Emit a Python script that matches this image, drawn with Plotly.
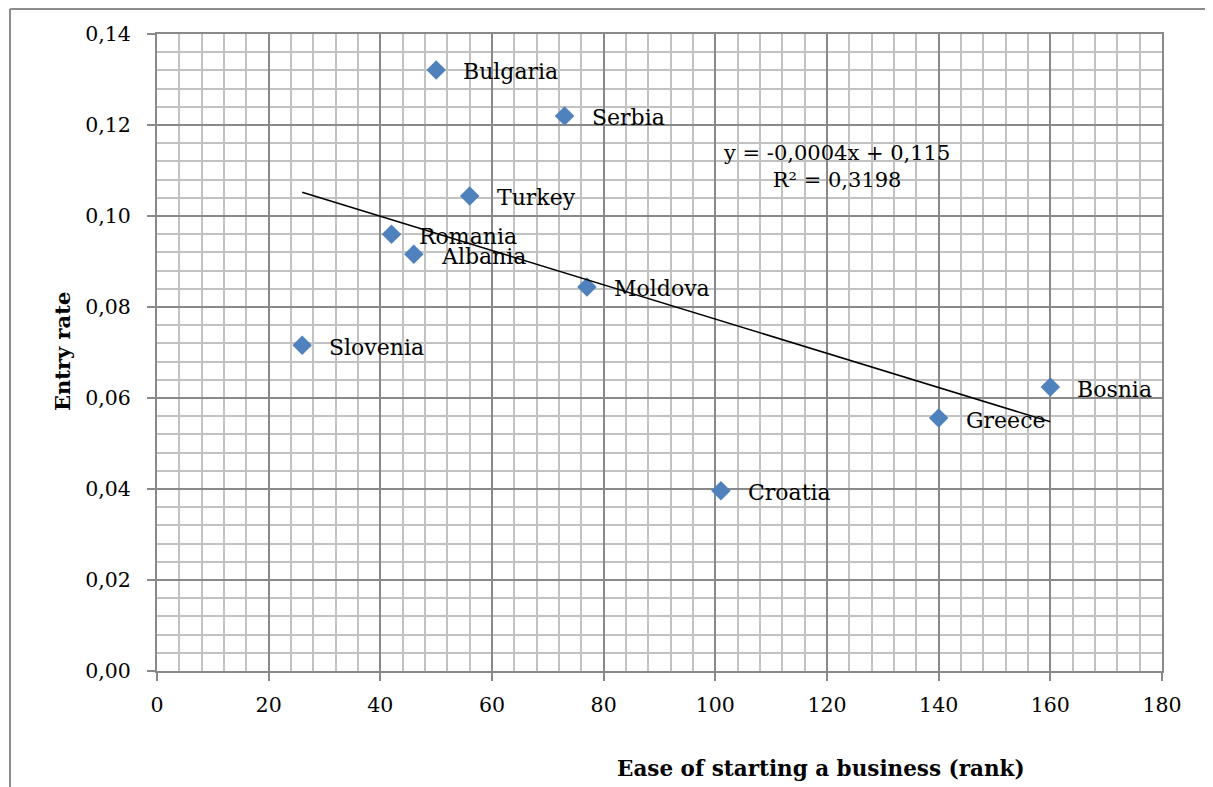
import numpy as np
import plotly.graph_objects as go

countries = ["Bulgaria", "Serbia", "Turkey", "Romania", "Albania", "Moldova",
             "Slovenia", "Bosnia", "Greece", "Croatia"]
ease_rank = [50, 73, 56, 42, 46, 77, 26, 160, 140, 101]
entry_rate = [0.1321, 0.1220, 0.1044, 0.0960, 0.0916, 0.0844,
              0.0716, 0.0624, 0.0556, 0.0396]
x_ticks = [0, 20, 40, 60, 80, 100, 120, 140, 160, 180]
y_ticks = [0.00, 0.02, 0.04, 0.06, 0.08, 0.10, 0.12, 0.14]
eq_text = "y = -0,0004x + 0,115<br>R² = 0,3198"

# page body has an 8px margin: work in target pixels, shifted by OFF
OFF = 8
W, H = 1213 - OFF, 787 - OFF
L, R, T, B = 157 - OFF, 51, 34 - OFF, 116
pw, ph = W - L - R, H - T - B

def px_x(p):
    return (p - OFF - L) / pw

def px_y(p):
    return (H - B - (p - OFF)) / ph

FONT = "DejaVu Serif"
major = "#898989"
minor = "#c2c2c2"

slope, intercept = np.polyfit(ease_rank, entry_rate, 1)
xs = np.array([min(ease_rank), max(ease_rank)])
ys = slope * xs + intercept

fig = go.Figure()
fig.add_trace(go.Scatter(
    x=ease_rank, y=entry_rate, mode="markers",
    marker=dict(symbol="diamond", size=15, color="#4F81BD",
                line=dict(width=0)),
    showlegend=False, hoverinfo="skip"))
fig.add_trace(go.Scatter(
    x=xs, y=ys, mode="lines", line=dict(color="black", width=1.5),
    showlegend=False, hoverinfo="skip"))

annotations = []
for c, xv, yv in zip(countries, ease_rank, entry_rate):
    annotations.append(dict(x=xv, y=yv, text=c, showarrow=False,
                            xanchor="left", yanchor="middle", xshift=25, yshift=-2,
                            font=dict(family=FONT, size=22, color="black")))
annotations.append(dict(x=px_x(836), y=px_y(166), xref="paper", yref="paper",
                        text=eq_text, showarrow=False, align="center",
                        xanchor="center", yanchor="middle",
                        font=dict(family=FONT, size=21, color="black")))
annotations.append(dict(x=px_x(62), y=px_y(352), xref="paper", yref="paper",
                        text="<b>Entry rate</b>", textangle=-90, showarrow=False,
                        xanchor="center", yanchor="middle",
                        font=dict(family=FONT, size=21, color="black")))
annotations.append(dict(x=px_x(821), y=px_y(768), xref="paper", yref="paper",
                        text="<b>Ease of starting a business (rank)</b>", showarrow=False,
                        xanchor="center", yanchor="middle",
                        font=dict(family=FONT, size=21.5, color="black")))

fig.update_layout(
    width=W, height=H,
    margin=dict(l=L, r=R, t=T, b=B, pad=0),
    paper_bgcolor="white", plot_bgcolor="white",
    separators=",.",
    annotations=annotations,
    shapes=[
        dict(type="line", xref="paper", yref="paper",
             x0=px_x(10), x1=px_x(10), y0=px_y(9), y1=px_y(800),
             line=dict(color="#8c8c8c", width=2)),
        dict(type="line", xref="paper", yref="paper",
             x0=px_x(10), x1=px_x(1220), y0=px_y(9), y1=px_y(9),
             line=dict(color="#8c8c8c", width=2)),
    ],
)
fig.update_xaxes(
    range=[0, 180], tickvals=x_ticks, ticktext=[str(v) for v in x_ticks],
    showgrid=True, gridcolor=major, gridwidth=1.5,
    minor=dict(dtick=4, tick0=0, showgrid=True, gridcolor=minor, gridwidth=1.5),
    showline=True, linecolor=major, linewidth=2, mirror=True,
    ticks="outside", ticklen=8, tickcolor=major, tickwidth=1.5,
    ticklabelstandoff=6,
    zeroline=False,
    tickfont=dict(family=FONT, size=20.5, color="black"))
fig.update_yaxes(
    range=[0, 0.14], tickvals=y_ticks, tickformat=".2f",
    showgrid=True, gridcolor=major, gridwidth=1.5,
    minor=dict(dtick=0.004, tick0=0, showgrid=True, gridcolor=minor, gridwidth=1.5),
    showline=True, linecolor=major, linewidth=2, mirror=True,
    ticks="outside", ticklen=8, tickcolor=major, tickwidth=1.5,
    ticklabelstandoff=12,
    zeroline=False,
    tickfont=dict(family=FONT, size=20.5, color="black"))

fig.write_html("out.html")
